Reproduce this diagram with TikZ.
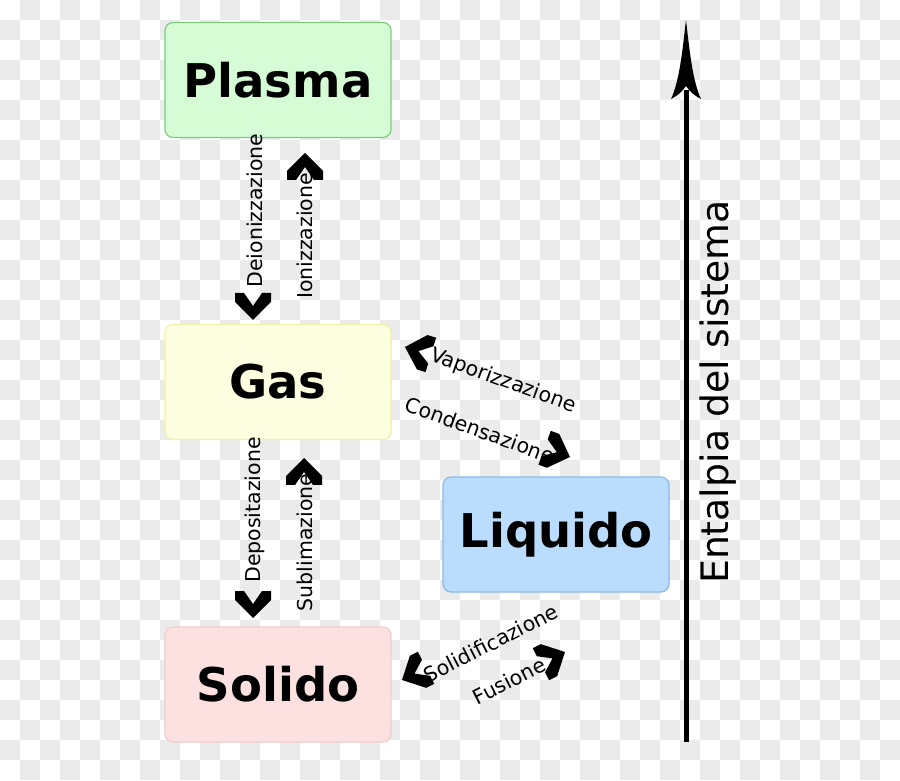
\documentclass[tikz,border=0pt]{standalone}
\usepackage{fontspec}
\setmainfont{DejaVu Sans}
\definecolor{checker}{RGB}{235,235,235}
\definecolor{plasmaF}{RGB}{214,252,214}
\definecolor{plasmaD}{RGB}{124,206,124}
\definecolor{gasF}{RGB}{253,253,224}
\definecolor{gasD}{RGB}{240,240,168}
\definecolor{liqF}{RGB}{187,221,253}
\definecolor{liqD}{RGB}{140,186,232}
\definecolor{solF}{RGB}{253,224,224}
\definecolor{solD}{RGB}{242,204,204}
\tikzset{
  statebox/.style={rounded corners=8pt, line width=1.2pt, minimum width=226pt, minimum height=115pt, inner sep=0pt,
    font=\fontsize{46.5}{50}\selectfont\bfseries},
  vlabel/.style={rotate=90, anchor=base, inner sep=0pt, font=\fontsize{20.5}{22}\selectfont},
  dlabel/.style={inner sep=0pt, font=\fontsize{20.5}{22}\selectfont},
  chev/.pic={\fill[black] (0,0) -- (-18,-18) -- (-27,-18) -- (-27,-9) -- (-14,0) -- (-27,9) -- (-27,18) -- (-18,18) -- cycle;}
}
\begin{document}
\begin{tikzpicture}[x=1pt,y=1pt]
\useasboundingbox (0,0) rectangle (900,780);
\fill[white] (0,0) rectangle (900,780);
\foreach \i in {0,...,44}{
  \foreach \j in {0,...,38}{
    \ifodd\numexpr\i+\j\relax
      \fill[checker] (\i*20, 760-\j*20) rectangle ++(20,20);
    \fi
  }
}
% state boxes
\node[statebox, fill=plasmaF, draw=plasmaD] (plasma) at (278,700) {Plasma};
\node[statebox, fill=gasF, draw=gasD] (gas) at (278,398) {Gas};
\node[statebox, fill=liqF, draw=liqD] (liquido) at (556,245.5) {Liquido};
\node[statebox, fill=solF, draw=solD] (solido) at (278,95.5) {Solido};
% vertical transitions
\node[vlabel] (deion) at (262,569.5) {Deionizzazione};
\pic[rotate=-90] at (253,460) {chev};
\node[vlabel] (ion) at (312,544) {Ionizzazione};
\pic[rotate=90] at (305,627) {chev};
\node[vlabel] (depo) at (260,270) {Depositazione};
\pic[rotate=-90] at (253,162) {chev};
\node[vlabel] (subl) at (312,237.5) {Sublimazione};
\pic[rotate=90] at (304,322) {chev};
% diagonal transitions
\node[dlabel, rotate=-20] (vapo) at (503,399) {Vaporizzazione};
\pic[rotate=163] at (405,433) {chev};
\node[dlabel, rotate=-20] (cond) at (480,350) {Condensazione};
\pic[rotate=-20] at (570,323) {chev};
\node[dlabel, rotate=27] (solid) at (491,137) {Solidificazione};
\pic[rotate=207] at (402,100) {chev};
\node[dlabel, rotate=27] (fus) at (509,99) {Fusione};
\pic[rotate=27] at (565,128) {chev};
% enthalpy axis
\coordinate (axbot) at (686,38);
\coordinate (axtop) at (686,690);
\draw[line width=5pt] (axbot) -- (axtop);
\fill[black] (686,760) .. controls (689,735) and (692,700) .. (701,681)
  .. controls (695,684) and (690,688) .. (686,694)
  .. controls (682,688) and (677,684) .. (671,681)
  .. controls (680,700) and (683,735) .. (686,760) -- cycle;
\node[rotate=90, anchor=base, inner sep=0pt, font=\fontsize{37.8}{40}\selectfont] (ent) at (728,388) {Entalpia del sistema};
\end{tikzpicture}
\end{document}
